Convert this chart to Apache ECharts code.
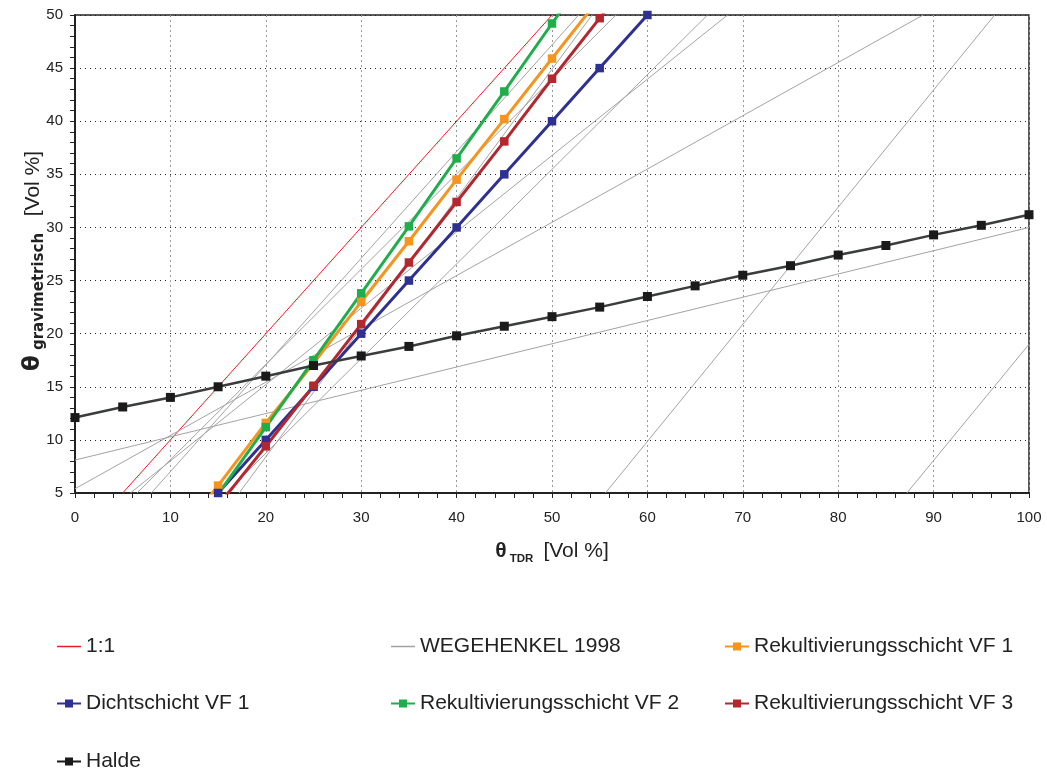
<!DOCTYPE html>
<html>
<head>
<meta charset="utf-8">
<title>θ TDR / θ gravimetrisch</title>
<script src="https://cdn.jsdelivr.net/npm/echarts@6/dist/echarts.min.js"></script>
<style>
  html, body { margin: 0; padding: 0; background: #fff; }
  #chart { width: 1047px; height: 773px; }
</style>
</head>
<body>
<div id="chart"></div>
<script>
// values: θ TDR (x) and θ gravimetrisch (y), Vol %
const tdrHalde = [0, 5, 10, 15, 20, 25, 30, 35, 40, 45, 50, 55, 60, 65, 70, 75, 80, 85, 90, 95, 100]
const halde = [12.1, 13.1, 14.0, 15.0, 16.0, 17.0, 17.9, 18.8, 19.8, 20.7, 21.6, 22.5, 23.5, 24.5, 25.5, 26.4, 27.4, 28.3, 29.3, 30.2, 31.2]

const tdrDicht = [10, 15, 20, 25, 30, 35, 40, 45, 50, 55, 60, 65]
const dichtVF1 = [0, 5, 10, 15, 20, 25, 30, 35, 40, 45, 50, 55]

const tdrRekuVF1 = [10, 15, 20, 25, 30, 35, 40, 45, 50, 55]
const rekuVF1 = [0, 5.7, 11.6, 17.2, 23.0, 28.7, 34.5, 40.2, 45.9, 51.6]

const tdrRekuVF2 = [15, 20, 25, 30, 35, 40, 45, 50, 55]
const rekuVF2 = [4.9, 11.2, 17.5, 23.8, 30.1, 36.5, 42.8, 49.2, 55.5]

const tdrRekuVF3 = [15, 20, 25, 30, 35, 40, 45, 50, 55, 60]
const rekuVF3 = [3.8, 9.4, 15.1, 20.9, 26.7, 32.4, 38.1, 44.0, 49.7, 55.4]

const oneToOne = [[5, 5], [50, 50]]

// WEGEHENKEL 1998 calibration lines, read as two points each
const wegehenkel = [
  [[5.8, 5], [68.4, 50]],
  [[15.8, 5], [66.3, 50]],
  [[8.0, 5], [52.8, 50]],
  [[17.2, 5], [54.2, 50]],
  [[6.5, 5], [56.7, 50]],
  [[0, 5.4], [88.9, 50]],
  [[0, 8.1], [100, 30.0]],
  [[55.6, 5], [96.4, 50]],
  [[87.2, 5], [100, 19.0]]
]

const pairs = (xs, ys) => xs.map((x, i) => [x, ys[i]])

const font = 'Liberation Sans, Arial, sans-serif'
const wideFont = 'DejaVu Sans, sans-serif'
const markerIcon = 'path://M0,3H8V0H16V3H24V5H16V8H8V5H0Z'

function markerSeries(name, data, color, width, size, symbolColor) {
  return {
    name,
    type: 'line',
    data,
    symbol: 'rect',
    symbolSize: size,
    lineStyle: { color, width },
    itemStyle: { color: symbolColor || color },
    emphasis: { disabled: true },
    animation: false
  }
}

const series = [
  {
    name: '1:1',
    type: 'line',
    data: oneToOne,
    symbol: 'none',
    lineStyle: { color: '#ed1c24', width: 1 },
    itemStyle: { color: '#ed1c24' },
    animation: false
  }
].concat(wegehenkel.map(line => ({
  name: 'WEGEHENKEL 1998',
  type: 'line',
  data: line,
  symbol: 'none',
  lineStyle: { color: '#a3a3a3', width: 1 },
  itemStyle: { color: '#a3a3a3' },
  animation: false
}))).concat([
  markerSeries('Rekultivierungsschicht VF 1', pairs(tdrRekuVF1, rekuVF1), '#f7941d', 3, 8.5),
  markerSeries('Dichtschicht VF 1', pairs(tdrDicht, dichtVF1), '#2e3192', 3, 8.5),
  markerSeries('Rekultivierungsschicht VF 2', pairs(tdrRekuVF2, rekuVF2), '#1fae4b', 3, 8.5),
  markerSeries('Rekultivierungsschicht VF 3', pairs(tdrRekuVF3, rekuVF3), '#b2282e', 3, 8.5),
  markerSeries('Halde', pairs(tdrHalde, halde), '#3a3d3c', 2.5, 9, '#1a1a1a')
])

const legendSlots = [
  { name: '1:1', left: 52, top: 631, marker: false },
  { name: 'WEGEHENKEL 1998', left: 386, top: 631, marker: false },
  { name: 'Rekultivierungsschicht VF 1', left: 720, top: 631, marker: true },
  { name: 'Dichtschicht VF 1', left: 52, top: 688, marker: true },
  { name: 'Rekultivierungsschicht VF 2', left: 386, top: 688, marker: true },
  { name: 'Rekultivierungsschicht VF 3', left: 720, top: 688, marker: true },
  { name: 'Halde', left: 52, top: 746, marker: true }
]

const xNameRich = {
  t: { fontFamily: font, fontSize: 21, fontWeight: 'bold', color: '#222', lineHeight: 28, verticalAlign: 'middle' },
  s: { fontFamily: font, fontSize: 11.5, fontWeight: 'bold', color: '#222', lineHeight: 14, verticalAlign: 'bottom' },
  n: { fontFamily: font, fontSize: 21, color: '#222', lineHeight: 28, verticalAlign: 'middle' }
}
const yNameRich = {
  t: { fontFamily: wideFont, fontSize: 23, fontWeight: 'bold', color: '#222', lineHeight: 28, verticalAlign: 'middle' },
  s: { fontFamily: wideFont, fontSize: 15, fontWeight: 'bold', color: '#222', lineHeight: 17, verticalAlign: 'bottom' },
  n: { fontFamily: font, fontSize: 21, color: '#222', lineHeight: 28, verticalAlign: 'middle' }
}

const chart = echarts.init(document.getElementById('chart'))
chart.setOption({
  backgroundColor: '#fff',
  textStyle: { fontFamily: font },
  grid: {
    left: 75, right: 18, top: 15, bottom: 280,
    show: true, borderColor: '#222', borderWidth: 1.5
  },
  legend: legendSlots.map(s => ({
    data: [{ name: s.name, icon: s.marker ? markerIcon : 'rect' }],
    left: s.left,
    top: s.top,
    itemWidth: 24,
    itemHeight: s.marker ? 8 : 1.5,
    itemGap: 0,
    selectedMode: false,
    textStyle: { fontFamily: font, fontSize: 21, color: '#222' }
  })),
  xAxis: {
    type: 'value',
    min: 0, max: 100, interval: 10,
    name: '{t|θ}{s| TDR}   {n|[Vol %]}',
    nameLocation: 'middle',
    nameGap: 44,
    nameMoveOverlap: false,
    nameTextStyle: { rich: xNameRich },
    axisLine: { lineStyle: { color: '#222', width: 2 } },
    axisTick: { length: 5, lineStyle: { color: '#222' } },
    minorTick: { show: true, splitNumber: 5, length: 5, lineStyle: { color: '#222' } },
    axisLabel: { margin: 17, fontSize: 15, color: '#222', fontFamily: font },
    splitLine: { lineStyle: { color: '#999', type: [2, 3], width: 1 } }
  },
  yAxis: {
    type: 'value',
    min: 5, max: 50, interval: 5,
    name: '{t|θ}{s| gravimetrisch}     {n|[Vol %]}',
    nameLocation: 'middle',
    nameGap: 28,
    nameMoveOverlap: false,
    nameTextStyle: { rich: yNameRich, padding: [0, 14, 0, 0] },
    axisLine: { lineStyle: { color: '#222', width: 2 } },
    axisTick: { length: 5, lineStyle: { color: '#222' } },
    minorTick: { show: true, splitNumber: 5, length: 5, lineStyle: { color: '#222' } },
    axisLabel: { margin: 12, fontSize: 15, color: '#222', fontFamily: font },
    splitLine: { lineStyle: { color: '#222', type: [1, 4], width: 1 } }
  },
  series
})
</script>
</body>
</html>
